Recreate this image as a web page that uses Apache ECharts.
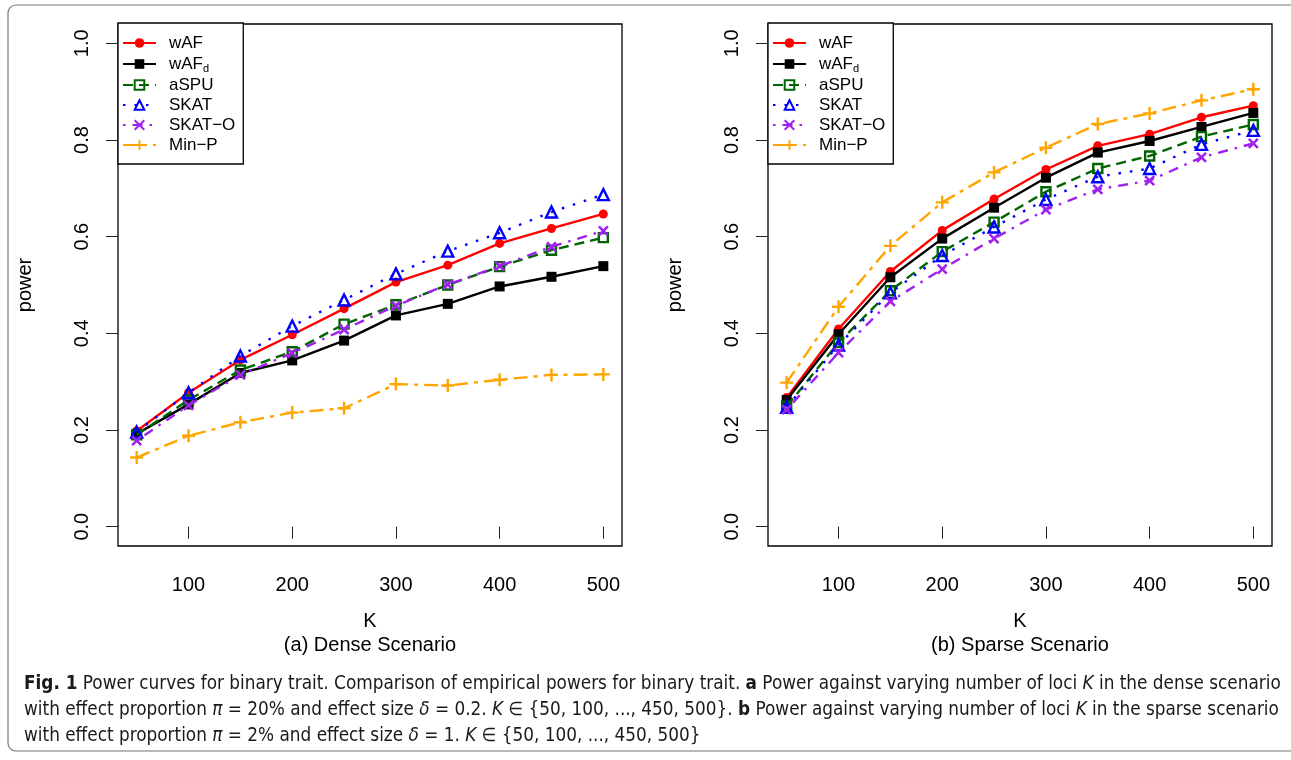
<!DOCTYPE html>
<html>
<head>
<meta charset="utf-8">
<script src="https://cdn.jsdelivr.net/npm/echarts@6/dist/echarts.min.js"></script>
<style>
html,body{margin:0;padding:0;background:#fff;}
#chart{width:1291px;height:760px;}
</style>
</head>
<body>
<div id="chart"></div>
<script>
// ---- data ----
const kValues = [50, 100, 150, 200, 250, 300, 350, 400, 450, 500];
const xTicks = [100, 200, 300, 400, 500];
const yTicks = [0, 0.2, 0.4, 0.6, 0.8, 1.0];
const seriesNames = ['wAF', 'wAFd', 'aSPU', 'SKAT', 'SKAT−O', 'Min−P'];

// (a) Dense scenario
const denseWAF   = [0.198, 0.277, 0.345, 0.397, 0.451, 0.506, 0.541, 0.586, 0.617, 0.647];
const denseWAFd  = [0.192, 0.253, 0.318, 0.344, 0.385, 0.437, 0.461, 0.497, 0.517, 0.539];
const denseASPU  = [0.190, 0.262, 0.324, 0.362, 0.419, 0.459, 0.500, 0.538, 0.572, 0.598];
const denseSKAT  = [0.196, 0.277, 0.353, 0.415, 0.469, 0.523, 0.570, 0.608, 0.651, 0.687];
const denseSKATO = [0.178, 0.251, 0.314, 0.359, 0.408, 0.457, 0.501, 0.539, 0.579, 0.612];
const denseMinP  = [0.143, 0.188, 0.216, 0.236, 0.245, 0.295, 0.292, 0.304, 0.314, 0.315];

// (b) Sparse scenario
const sparseWAF   = [0.267, 0.409, 0.528, 0.613, 0.678, 0.739, 0.788, 0.812, 0.847, 0.871];
const sparseWAFd  = [0.262, 0.398, 0.516, 0.596, 0.660, 0.722, 0.774, 0.798, 0.827, 0.856];
const sparseASPU  = [0.249, 0.381, 0.488, 0.569, 0.630, 0.693, 0.741, 0.767, 0.807, 0.832];
const sparseSKAT  = [0.247, 0.376, 0.484, 0.561, 0.620, 0.677, 0.724, 0.741, 0.791, 0.820];
const sparseSKATO = [0.242, 0.360, 0.466, 0.533, 0.596, 0.656, 0.698, 0.716, 0.764, 0.793];
const sparseMinP  = [0.298, 0.455, 0.581, 0.671, 0.733, 0.784, 0.833, 0.855, 0.882, 0.905];

const denseData  = [denseWAF, denseWAFd, denseASPU, denseSKAT, denseSKATO, denseMinP];
const sparseData = [sparseWAF, sparseWAFd, sparseASPU, sparseSKAT, sparseSKATO, sparseMinP];

// ---- styles ----
const FONT = 'Liberation Sans, Arial, sans-serif';
const CAPFONT = '"Liberation Sans Narrow", "DejaVu Sans Condensed", "Liberation Sans", sans-serif';
const styles = [
  {color: '#FF0000', type: 'solid', symbol: 'circle', size: 9, fill: '#FF0000', bw: 0},
  {color: '#000000', type: 'solid', symbol: 'rect', size: 10, fill: '#000000', bw: 0},
  {color: '#006400', type: [10, 6], symbol: 'rect', size: 9, fill: 'rgba(255,255,255,0)', bw: 2.4},
  {color: '#0000FF', type: [2.5, 9], symbol: 'triangle', size: 11, fill: 'rgba(255,255,255,0)', bw: 2.4},
  {color: '#A020F0', type: [2.5, 7, 10, 7], symbol: 'path://M0,0L10,10M10,0L0,10', size: 9, fill: 'rgba(255,255,255,0)', bw: 2.6},
  {color: '#FFA500', type: [14, 6, 4, 6], symbol: 'path://M5,0L5,10M0,5L10,5', size: 13, fill: 'rgba(255,255,255,0)', bw: 2.4}
];

function makeSeries(dataSets, idx) {
  return dataSets.map((vals, i) => {
    const s = styles[i];
    return {
      name: seriesNames[i],
      type: 'line',
      xAxisIndex: idx,
      yAxisIndex: idx,
      data: kValues.map((k, j) => [k, vals[j]]),
      symbol: s.symbol,
      symbolSize: s.size,
      showAllSymbol: true,
      lineStyle: {color: s.color, width: 2.4, type: s.type},
      itemStyle: {color: s.fill, borderColor: s.color, borderWidth: s.bw},
      emphasis: {disabled: true},
      animation: false,
      z: 2 + i
    };
  });
}

function makeXAxis(idx) {
  return {
    type: 'value', gridIndex: idx, min: 32, max: 518,
    name: 'K', nameLocation: 'middle', nameGap: 65,
    nameTextStyle: {fontFamily: FONT, fontSize: 20, color: '#000'},
    axisLine: {show: false},
    axisTick: {show: true, length: 12, customValues: xTicks, lineStyle: {color: '#222', width: 1}},
    axisLabel: {customValues: xTicks, margin: 29, fontFamily: FONT, fontSize: 20, color: '#000'},
    splitLine: {show: false}
  };
}
function makeYAxis(idx) {
  return {
    type: 'value', gridIndex: idx, min: -0.04, max: 1.04,
    name: 'power', nameLocation: 'middle', nameGap: 83,
    nameTextStyle: {fontFamily: FONT, fontSize: 20, color: '#000'},
    axisLine: {show: false},
    axisTick: {show: true, length: 12, customValues: yTicks, lineStyle: {color: '#222', width: 1}},
    axisLabel: {customValues: yTicks, rotate: 90, margin: 26, fontFamily: FONT, fontSize: 20, color: '#000',
      formatter: v => v.toFixed(1)},
    splitLine: {show: false}
  };
}
function makeLegend(left) {
  return {
    orient: 'vertical', left: left, top: 23,
    data: seriesNames,
    backgroundColor: '#fff',
    borderColor: '#000', borderWidth: 1.3, borderRadius: 0,
    padding: [11, 8, 10, 4],
    itemWidth: 33, itemHeight: 12, itemGap: 2,
    selectedMode: false,
    textStyle: {fontFamily: FONT, fontSize: 17, color: '#000', lineHeight: 18, padding: [0, 0, 0, 8],
      rich: {sub: {fontFamily: FONT, fontSize: 11, color: '#000', padding: [9, 0, 0, 0], lineHeight: 18}}},
    formatter: n => n === 'wAFd' ? 'wAF{sub|d}' : n
  };
}

const chart = echarts.init(document.getElementById('chart'), null, {renderer: 'canvas'});
const CAPSIZE = 18.8;
const capBase = {fontFamily: CAPFONT, fontSize: CAPSIZE, fill: '#1a1a1a'};
const capRich = {
  b: {fontFamily: CAPFONT, fontSize: CAPSIZE, fontWeight: 'bold', fill: '#1a1a1a'},
  i: {fontFamily: CAPFONT, fontSize: CAPSIZE, fontStyle: 'italic', fill: '#1a1a1a'}
};
const option = {
  backgroundColor: '#fff',
  animation: false,
  grid: [
    {left: 118, top: 24, width: 504, height: 522, show: true, borderColor: '#000', borderWidth: 1.3, backgroundColor: 'transparent'},
    {left: 768, top: 24, width: 504, height: 522, show: true, borderColor: '#000', borderWidth: 1.3, backgroundColor: 'transparent'}
  ],
  xAxis: [makeXAxis(0), makeXAxis(1)],
  yAxis: [makeYAxis(0), makeYAxis(1)],
  legend: [makeLegend(118), makeLegend(768)],
  series: makeSeries(denseData, 0).concat(makeSeries(sparseData, 1)),
  graphic: [
    {type: 'rect', shape: {x: 8, y: 5, width: 1300, height: 746, r: 8}, style: {fill: 'none', stroke: '#777', lineWidth: 1.2}, z: -10, silent: true},
    {type: 'text', x: 370, y: 645, style: {text: '(a) Dense Scenario', fontFamily: FONT, fontSize: 20, fill: '#000', align: 'center', verticalAlign: 'middle'}},
    {type: 'text', x: 1020, y: 645, style: {text: '(b) Sparse Scenario', fontFamily: FONT, fontSize: 20, fill: '#000', align: 'center', verticalAlign: 'middle'}},
    {type: 'text', x: 24, y: 684, style: Object.assign({}, capBase, {verticalAlign: 'middle', rich: capRich,
      text: '{b|Fig. 1} Power curves for binary trait. Comparison of empirical powers for binary trait. {b|a} Power against varying number of loci {i|K} in the dense scenario'})},
    {type: 'text', x: 24, y: 710, style: Object.assign({}, capBase, {verticalAlign: 'middle', rich: capRich,
      text: 'with effect proportion {i|π} = 20% and effect size {i|δ} = 0.2. {i|K} ∈ {50, 100, ..., 450, 500}. {b|b} Power against varying number of loci {i|K} in the sparse scenario'})},
    {type: 'text', x: 24, y: 736, style: Object.assign({}, capBase, {verticalAlign: 'middle', rich: capRich,
      text: 'with effect proportion {i|π} = 2% and effect size {i|δ} = 1. {i|K} ∈ {50, 100, ..., 450, 500}'})}
  ]
};
chart.setOption(option);
</script>
</body>
</html>
